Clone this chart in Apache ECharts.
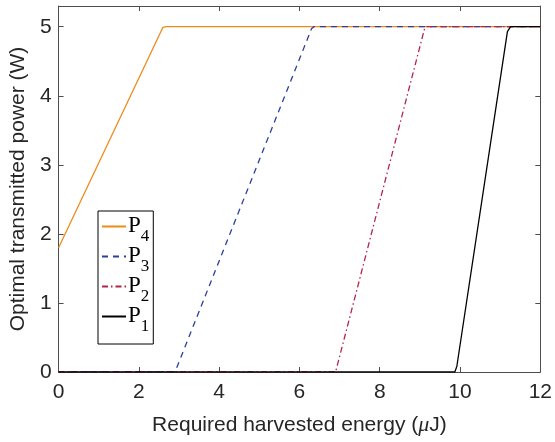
<!DOCTYPE html>
<html>
<head>
<meta charset="utf-8">
<script src="https://cdn.jsdelivr.net/npm/echarts@6/dist/echarts.min.js"></script>
<style>
  html, body { margin: 0; padding: 0; background: #fff; }
  #chart { width: 555px; height: 442px; }
</style>
</head>
<body>
<div id="chart"></div>
<script>
  // points: [energy (uJ), power (W)]
  const p4 = [[0, 1.8], [2.55, 4.93], [2.6, 4.99], [2.68, 5], [12, 5]]
  const p3 = [[0, 0], [2.9, 0], [6.3, 4.97], [6.36, 5], [12, 5]]
  const p2 = [[0, 0], [6.9, 0], [9.12, 4.98], [9.18, 5], [12, 5]]
  const p1 = [[0, 0], [9.87, 0], [9.92, 0.08], [11.18, 4.93], [11.26, 5], [12, 5]]
  const seriesNames = ['P4', 'P3', 'P2', 'P1']
  const seriesColors = ['#ED8B1B', '#2B3F9E', '#B5254A', '#000000']

  const axisColor = '#4d4d4d'
  const textColor = '#262626'
  const sans = 'Liberation Sans'

  const chart = echarts.init(document.getElementById('chart'))

  const frameAxis = {
    axisLine: { show: true, onZero: false, lineStyle: { color: axisColor, width: 1 } },
    axisTick: { show: true, inside: true, length: 5, lineStyle: { color: axisColor } },
    splitLine: { show: false }
  }

  chart.setOption({
    animation: false,
    grid: { left: 58, right: 13, top: 6, bottom: 70 },
    legend: {
      orient: 'vertical',
      left: 98,
      top: 211,
      padding: [3, 4, 9, 3],
      itemGap: -1,
      itemWidth: 24,
      itemHeight: 10,
      backgroundColor: '#fff',
      borderColor: '#000',
      borderWidth: 1,
      // hide the marker dot, keep only the line sample
      itemStyle: { opacity: 0 },
      data: seriesNames,
      formatter: (name) => '{p|P}{s|' + name.slice(1) + '}',
      textStyle: {
        fontFamily: 'Liberation Serif',
        color: '#000',
        padding: [0, 0, 3, -3],
        rich: {
          p: { fontFamily: 'Liberation Serif', fontSize: 23, lineHeight: 22, verticalAlign: 'top', color: '#000' },
          s: { fontFamily: 'Liberation Serif', fontSize: 17, lineHeight: 16, padding: [14, 0, 0, 0], verticalAlign: 'top', color: '#000' }
        }
      }
    },
    xAxis: [
      {
        type: 'value',
        min: 0,
        max: 12,
        interval: 2,
        position: 'bottom',
        ...frameAxis,
        axisLabel: { color: textColor, fontFamily: sans, fontSize: 21, margin: 10 },
        name: 'Required harvested energy ({mu|μ}J)',
        nameLocation: 'middle',
        nameGap: 42,
        nameTextStyle: {
          color: textColor,
          fontFamily: sans,
          fontSize: 21,
          rich: {
            mu: { fontFamily: 'Liberation Serif', fontStyle: 'italic', fontSize: 22, color: textColor }
          }
        }
      },
      {
        type: 'value',
        min: 0,
        max: 12,
        interval: 2,
        position: 'top',
        ...frameAxis,
        axisLabel: { show: false }
      }
    ],
    yAxis: [
      {
        type: 'value',
        min: 0,
        max: 5.3,
        interval: 1,
        position: 'left',
        ...frameAxis,
        axisLabel: { color: textColor, fontFamily: sans, fontSize: 21, margin: 7, showMaxLabel: false },
        name: 'Optimal transmitted power (W)',
        nameLocation: 'middle',
        nameGap: 29,
        nameTextStyle: { color: textColor, fontFamily: sans, fontSize: 21 }
      },
      {
        type: 'value',
        min: 0,
        max: 5.3,
        interval: 1,
        position: 'right',
        ...frameAxis,
        axisLabel: { show: false }
      }
    ],
    series: [
      { name: 'P4', type: 'line', data: p4, symbol: 'none', lineStyle: { color: seriesColors[0], width: 1.3, type: 'solid' }, itemStyle: { color: seriesColors[0] } },
      { name: 'P3', type: 'line', data: p3, symbol: 'none', lineStyle: { color: seriesColors[1], width: 1.3, type: [6, 5] }, itemStyle: { color: seriesColors[1] } },
      { name: 'P2', type: 'line', data: p2, symbol: 'none', lineStyle: { color: seriesColors[2], width: 1.3, type: [6, 3, 1.5, 3] }, itemStyle: { color: seriesColors[2] } },
      { name: 'P1', type: 'line', data: p1, symbol: 'none', lineStyle: { color: seriesColors[3], width: 1.3, type: 'solid' }, itemStyle: { color: seriesColors[3] } }
    ]
  })
</script>
</body>
</html>
